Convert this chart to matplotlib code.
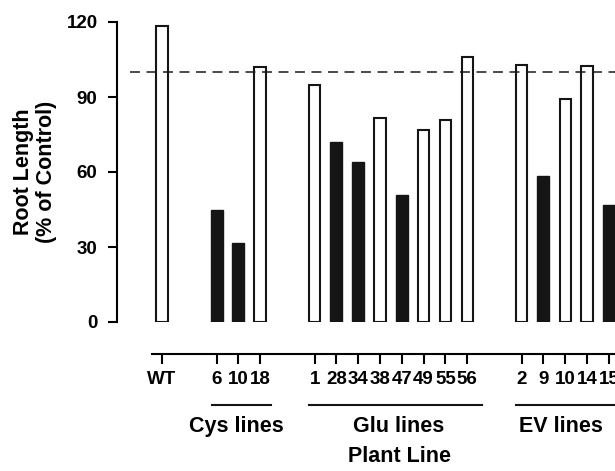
import matplotlib.pyplot as plt

plt.rcParams['font.family'] = ['Liberation Sans', 'DejaVu Sans']
plt.rcParams['font.weight'] = 'bold'

# bar data (root length, % of control)
labels = ['WT', '6', '10', '18',
          '1', '28', '34', '38', '47', '49', '55', '56',
          '2', '9', '10', '14', '15']
positions = [0, 2.5, 3.5, 4.5,
             7, 8, 9, 10, 11, 12, 13, 14,
             16.5, 17.5, 18.5, 19.5, 20.5]
values = [118.5, 45, 31.5, 102,
          95, 72, 64, 81.8, 51, 76.7, 80.8, 106,
          103, 58.3, 89.3, 102.3, 47]
filled = [False, True, True, False,
          False, True, True, False, True, False, False, False,
          False, True, False, False, True]
groups = ['Cys lines', 'Glu lines', 'EV lines']
group_lines = [(2.3, 5.0), (6.75, 14.7), (16.25, 23)]
group_text_x = [3.4, 10.85, 18.3]

fig = plt.figure(figsize=(6.15, 4.71), dpi=100)
# axes extends past the right edge on purpose (chart is cut off there)
ax = fig.add_axes([130 / 615, 149 / 471, 510 / 615, 300 / 471])

for x, v, f in zip(positions, values, filled):
    if f:
        ax.bar(x, v, width=0.55, color='#151515', edgecolor='#151515', linewidth=1.0)
    else:
        ax.bar(x, v, width=0.52, color='white', edgecolor='#151515', linewidth=1.5)

ax.axhline(100, color='#1a1a1a', linewidth=1.1, dashes=(6.5, 4.3))

ax.set_xlim(-1.47, 21.93)
ax.set_ylim(0, 120)
ax.set_yticks([0, 30, 60, 90, 120])
ax.set_xticks(positions)
ax.set_xticklabels(labels)

for s in ['top', 'right']:
    ax.spines[s].set_visible(False)
ax.spines['left'].set_position(('outward', 9.4))
ax.spines['bottom'].set_position(('outward', 23))
ax.spines['left'].set_linewidth(1.5)
ax.spines['bottom'].set_linewidth(1.5)
ax.spines['bottom'].set_bounds(-0.46, 23)
ax.tick_params(axis='y', length=6.5, width=1.5, pad=7.5, labelsize=13.5)
ax.tick_params(axis='x', length=7, width=1.5, pad=5.5, labelsize=13.5)

# group underlines and names
trans = ax.get_xaxis_transform()
for (x0, x1), name, tx in zip(group_lines, groups, group_text_x):
    ax.plot([x0, x1], [-0.277, -0.277], color='#151515', linewidth=1.5,
            transform=trans, clip_on=False)
    ax.text(tx, -0.347, name, transform=trans, ha='center', va='center',
            fontsize=15.5, fontweight='bold')

fig.text(400 / 615, 15 / 471, 'Plant Line', ha='center', va='center',
         fontsize=15.5, fontweight='bold')
fig.text(35 / 615, (471 - 172) / 471, 'Root Length\n(% of Control)',
         rotation=90, ha='center', va='center', fontsize=15.5,
         fontweight='bold', multialignment='center', linespacing=1.1)

fig.savefig('out.png', dpi=100)
